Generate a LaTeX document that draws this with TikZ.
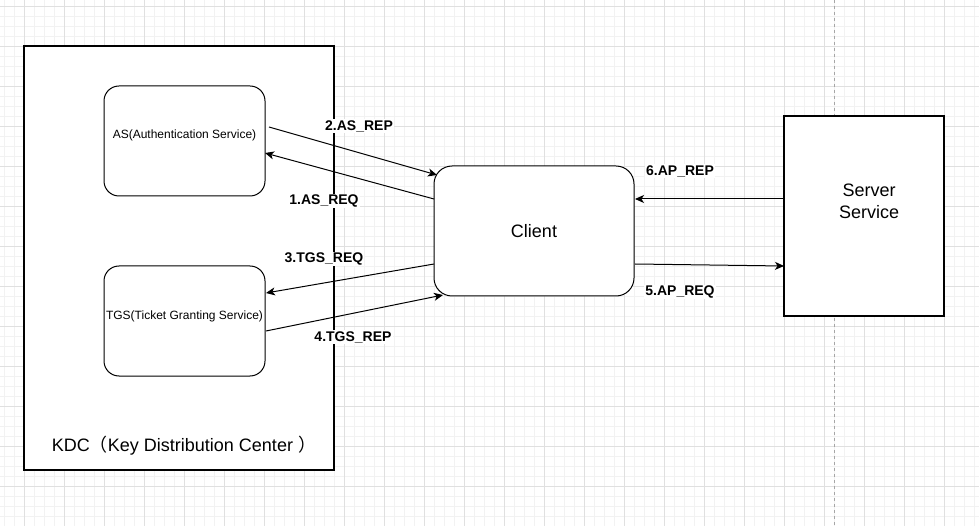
\documentclass[tikz,border=0pt]{standalone}
\usepackage{fontspec}
\setmainfont{Liberation Sans}
\newfontfamily\cjk{Noto Sans CJK SC}
\usetikzlibrary{arrows.meta}
\tikzset{
  gridminor/.style={draw=black!5, line width=0.8pt},
  gridmajor/.style={draw=black!12, line width=0.8pt},
  bigbox/.style={draw=black, line width=1.4pt, fill=white},
  rbox/.style={draw=black, line width=1pt, fill=white, inner sep=0pt},
  conn/.style={draw=black, line width=1pt, -{Stealth[length=9pt,width=8pt,inset=2.5pt]}},
  lbl/.style={font=\bfseries\fontsize{14}{16}\selectfont, fill=white, inner sep=1pt},
  txt/.style={inner sep=0pt, align=center},
}
\begin{document}
\begin{tikzpicture}[x=1pt,y=-1pt]
\useasboundingbox (0,0) rectangle (979,526);
\fill[white] (0,0) rectangle (979,526);
% grid
\foreach \x in {4,14,...,974} \draw[gridminor] (\x,0) -- (\x,526);
\foreach \y in {6,16,...,526} \draw[gridminor] (0,\y) -- (979,\y);
\foreach \x in {24,64,...,974} \draw[gridmajor] (\x,0) -- (\x,526);
\foreach \y in {6,46,...,526} \draw[gridmajor] (0,\y) -- (979,\y);
% dashed lifeline behind the server
\coordinate (dtop) at (834,0);
\coordinate (dbot) at (834,526);
\draw[draw=black!35, line width=1pt, dash pattern=on 3pt off 3pt] (dtop) -- (dbot);
% KDC container
\node[bigbox, minimum width=310pt, minimum height=424pt, inner sep=0pt] (kdc) at (179,258) {};
\node[txt, font=\fontsize{18}{21}\selectfont] (kdct) at (184,446) {KDC{\cjk （}Key Distribution Center {\cjk ）}};
% AS and TGS
\node[rbox, rounded corners=15pt, minimum width=161pt, minimum height=110pt] (as) at (184.5,141) {};
\node[txt, font=\fontsize{12}{14}\selectfont] (ast) at (184.5,135) {AS(Authentication Service)};
\node[rbox, rounded corners=15pt, minimum width=161pt, minimum height=110pt] (tgs) at (184.5,321) {};
\node[txt, font=\fontsize{12}{14}\selectfont] (tgst) at (184.5,316) {TGS(Ticket Granting Service)};
% Client
\node[rbox, rounded corners=18pt, minimum width=200pt, minimum height=130pt, font=\fontsize{18}{21}\selectfont] (client) at (534,231) {Client};
% Server
\node[bigbox, minimum width=160pt, minimum height=200pt, inner sep=0pt] (server) at (864,216) {};
\node[txt, font=\fontsize{18}{22}\selectfont, anchor=north] (servert) at (869,184) {Server\\Service};
% connector end points
\coordinate (asrepS) at (269,127);
\coordinate (asrepE) at (437,175);
\coordinate (asreqS) at (434,199);
\coordinate (asreqE) at (265,153);
\coordinate (tgsreqS) at (434,264);
\coordinate (tgsreqE) at (266,293);
\coordinate (tgsrepS) at (266,331);
\coordinate (tgsrepE) at (443,295);
\coordinate (aprepS) at (784,199);
\coordinate (aprepE) at (635,199);
\coordinate (apreqS) at (635,264);
\coordinate (apreqE) at (784,266);
\draw[conn] (asrepS) -- (asrepE);
\draw[conn] (asreqS) -- (asreqE);
\draw[conn] (tgsreqS) -- (tgsreqE);
\draw[conn] (tgsrepS) -- (tgsrepE);
\draw[conn] (aprepS) -- (aprepE);
\draw[conn] (apreqS) -- (apreqE);
% labels
\node[lbl] (l2) at (359,126) {2.AS\_REP};
\node[lbl] (l1) at (324,201) {1.AS\_REQ};
\node[lbl] (l3) at (324,259) {3.TGS\_REQ};
\node[lbl] (l4) at (353,337) {4.TGS\_REP};
\node[lbl] (l6) at (680,171) {6.AP\_REP};
\node[lbl] (l5) at (680,292) {5.AP\_REQ};
\end{tikzpicture}
\end{document}
